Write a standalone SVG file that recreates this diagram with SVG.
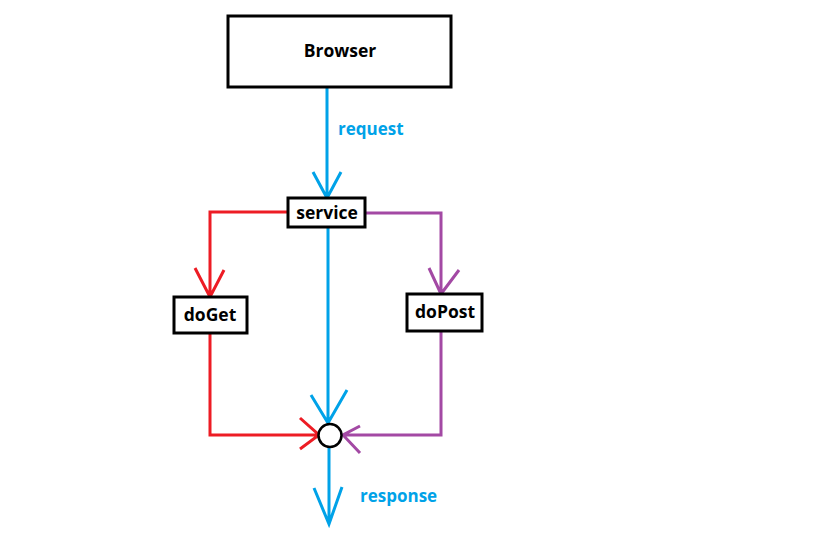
<svg xmlns="http://www.w3.org/2000/svg" width="814" height="537" viewBox="0 0 814 537">
<style>
.box{fill:#fff;stroke:#000;stroke-width:3}
.t{font-family:"Open Sans","Noto Sans",sans-serif;font-weight:bold;font-size:17.5px;fill:#000;text-anchor:middle}
.lbl{font-family:"Open Sans","Noto Sans",sans-serif;font-weight:bold;font-size:17px;fill:#00A2E8}
.b{fill:none;stroke:#00A2E8;stroke-width:3}
.r{fill:none;stroke:#ED1C24;stroke-width:3}
.p{fill:none;stroke:#A349A4;stroke-width:3}
</style>
<rect width="814" height="537" fill="#fff"/>
<g id="connectors">
<path class="b" d="M327 88V198M313 172L327 198L341 172"/>
<path class="b" d="M328 227V423M311 395L328 423L347 390"/>
<path class="b" d="M329 447V524M314 488L329 524L342 487"/>
<path class="r" d="M288 212H210V297M195 268L210 297L224 270"/>
<path class="r" d="M210 333V435H319M300 418L319 435L300 449"/>
<path class="p" d="M365 213H441V294M429 268L441 294L459 270"/>
<path class="p" d="M441 331V435H343M360 426L343 435L360 453"/>
<text class="lbl" x="338" y="135">request</text>
<text class="lbl" x="360" y="502">response</text>
</g>
<g id="browser"><rect class="box" x="228" y="16" width="223" height="71"/><text class="t" x="340" y="57">Browser</text></g>
<g id="service"><rect class="box" x="288" y="198" width="77" height="29"/><text class="t" x="327" y="219">service</text></g>
<g id="doGet"><rect class="box" x="174" y="297" width="73" height="36"/><text class="t" x="210" y="321">doGet</text></g>
<g id="doPost"><rect class="box" x="407" y="294" width="75" height="37"/><text class="t" x="445" y="318">doPost</text></g>
<g id="junction"><circle cx="330" cy="435.5" r="11.5" fill="#fff" stroke="#000" stroke-width="2.5"/></g>
</svg>
